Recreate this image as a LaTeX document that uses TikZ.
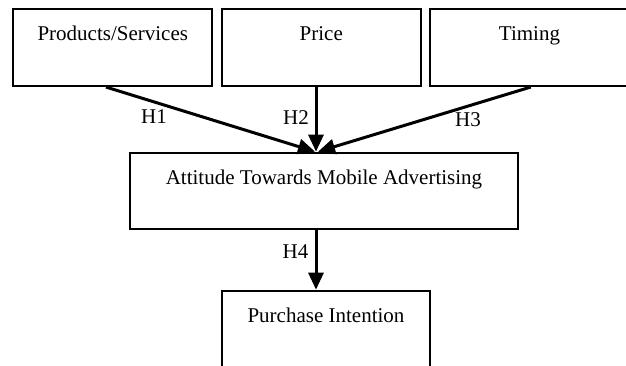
\documentclass[tikz,border=0pt]{standalone}
\usepackage{fontspec}
\setmainfont{Liberation Serif}
\usetikzlibrary{arrows.meta}

\tikzset{
  factor/.style={draw, line width=1pt, inner sep=0pt, text height=15.7pt, text depth=22.65pt},
  hyp/.style={-{Triangle[length=8.5pt, width=7.5pt]}, line width=1.5pt}
}

\begin{document}
\begin{tikzpicture}[x=0.5pt, y=-0.5pt, font=\fontsize{10.5}{12.6}\selectfont]
      \useasboundingbox (0, 0) rectangle (626, 365);
      \node[factor, minimum width=99.5pt] (prod) at (112.8, 47.7) {Products/Services};
      \node[factor, minimum width=99.35pt] (price) at (321.3, 47.7) {Price};
      \node[factor, minimum width=99.5pt] (timing) at (529.5, 47.7) {Timing};
      \node[factor, minimum width=194pt] (att) at (324, 191) {Attitude Towards Mobile Advertising};
      \node[factor, minimum width=104pt] (pur) at (326, 329) {Purchase Intention};
      \draw[hyp] ([xshift=-3.4pt]prod.south) -- ([xshift=-4.5pt]att.north);
      \draw[hyp] ([xshift=-2.65pt]price.south) -- ([xshift=-4pt]att.north);
      \draw[hyp] ([xshift=0.6pt]timing.south) -- ([xshift=-3pt]att.north);
      \draw[hyp] ([xshift=-4pt]att.south) -- ([xshift=-5pt]pur.north);
      \node (h1) at (154, 117) {H1};
      \node (h2) at (296, 118) {H2};
      \node (h3) at (468, 120) {H3};
      \node (h4) at (295.5, 251.7) {H4};
    \end{tikzpicture}
\end{document}
